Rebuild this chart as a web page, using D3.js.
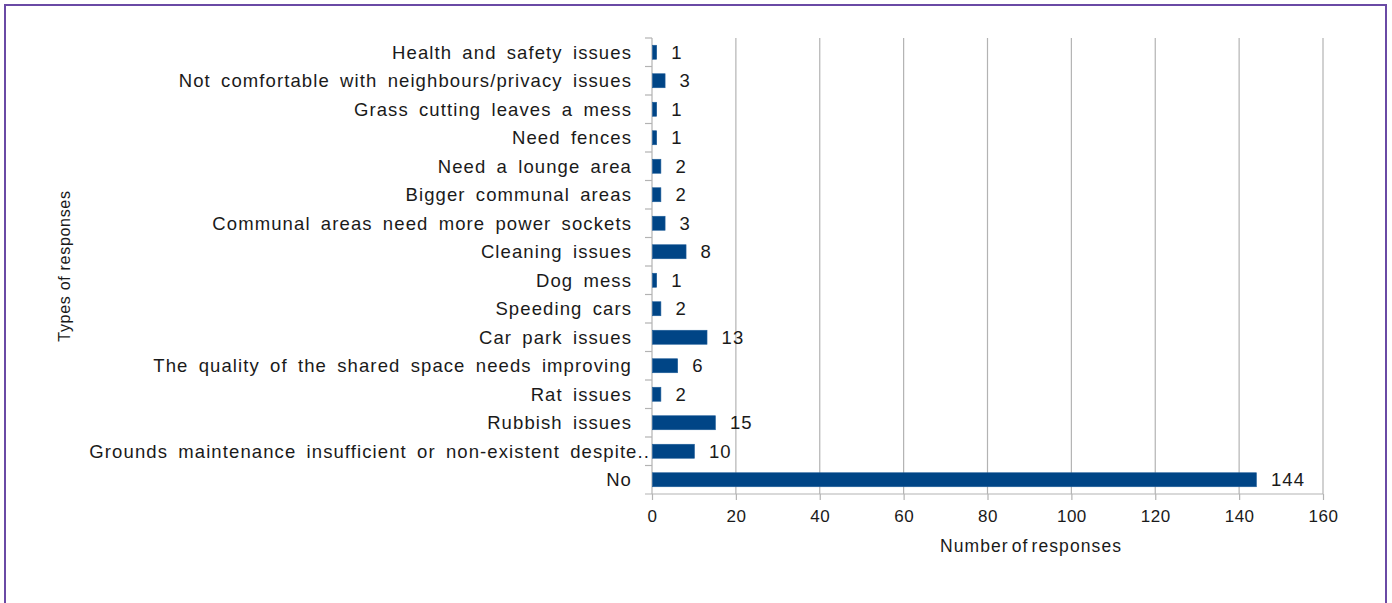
<!DOCTYPE html>
<html>
<head>
<meta charset="utf-8">
<script src="https://cdn.jsdelivr.net/npm/d3@7"></script>
<style>
  html, body { margin: 0; padding: 0; background: #fff; }
  svg { display: block; }
  text { font-family: "Liberation Sans", Arial, sans-serif; fill: #1a1a1a; }
</style>
</head>
<body>
<svg id="chart" width="1392" height="603"></svg>
<script>
// Survey categories, top to bottom
const categories = [
  "Health and safety issues",
  "Not comfortable  with neighbours/privacy  issues",
  "Grass cutting leaves a mess",
  "Need fences",
  "Need a lounge area",
  "Bigger communal areas",
  "Communal areas need more power sockets",
  "Cleaning issues",
  "Dog mess",
  "Speeding cars",
  "Car park issues",
  "The quality of the shared space needs improving",
  "Rat issues",
  "Rubbish issues",
  "Grounds maintenance insufficient or non-existent despite..",
  "No"
];
const responses = [1, 3, 1, 1, 2, 2, 3, 8, 1, 2, 13, 6, 2, 15, 10, 144];
const xTicks = [0, 20, 40, 60, 80, 100, 120, 140, 160];

const svg = d3.select("#chart");

// Outer frame
svg.append("rect")
  .attr("x", 5).attr("y", 5)
  .attr("width", 1381).attr("height", 620)
  .attr("fill", "none")
  .attr("stroke", "#6a4aa5")
  .attr("stroke-width", 2);

const plot = { left: 652, right: 1323, top: 38, bottom: 494 };

const x = d3.scaleLinear().domain([0, 160]).range([plot.left, plot.right]);
const y = d3.scaleBand().domain(categories).range([plot.top, plot.bottom]).paddingInner(0).paddingOuter(0);

const grid = "#b3b3b3";
const labelStyle = sel => sel
  .style("font-size", "18.5px")
  .style("letter-spacing", "1.1px")
  .style("word-spacing", "4px");

// Vertical gridlines
svg.append("g").selectAll("line")
  .data(xTicks.filter(d => d > 0))
  .join("line")
  .attr("x1", d => x(d)).attr("x2", d => x(d))
  .attr("y1", plot.top).attr("y2", plot.bottom)
  .attr("stroke", grid).attr("stroke-width", 1.2);

// X axis
const xAxis = svg.append("g")
  .attr("transform", `translate(0,${plot.bottom})`)
  .call(d3.axisBottom(x).tickValues(xTicks).tickSize(6).tickPadding(10).tickSizeOuter(0));
xAxis.select(".domain").remove();
xAxis.append("line")
  .attr("x1", plot.left - 7).attr("x2", plot.right)
  .attr("stroke", grid).attr("stroke-width", 1.2);
xAxis.selectAll(".tick line").attr("stroke", grid).attr("stroke-width", 1.2);
xAxis.selectAll(".tick text")
  .style("font-family", "'Liberation Sans', Arial, sans-serif")
  .style("font-size", "17px")
  .style("letter-spacing", "0.5px")
  .attr("fill", "#1a1a1a");

// Y axis line and category separators
svg.append("line")
  .attr("x1", plot.left).attr("x2", plot.left)
  .attr("y1", plot.top).attr("y2", plot.bottom)
  .attr("stroke", grid).attr("stroke-width", 1.2);
svg.append("g").selectAll("line")
  .data(categories.map(c => y(c)))
  .join("line")
  .attr("x1", plot.left - 7).attr("x2", plot.left)
  .attr("y1", d => d).attr("y2", d => d)
  .attr("stroke", grid).attr("stroke-width", 1.2);

// Category labels (truncated labels run up to the axis)
svg.append("g").selectAll("text")
  .data(categories)
  .join("text")
  .attr("x", d => d.endsWith("..") ? plot.left - 2 : plot.left - 20)
  .attr("y", d => y(d) + y.bandwidth() / 2)
  .attr("dy", "0.35em")
  .attr("text-anchor", "end")
  .call(labelStyle)
  .text(d => d);

// Bars
const barH = 14;
svg.append("g").selectAll("rect")
  .data(categories)
  .join("rect")
  .attr("x", x(0) + 0.5)
  .attr("y", d => y(d) + (y.bandwidth() - barH) / 2)
  .attr("width", (d, i) => x(responses[i]) - x(0))
  .attr("height", barH)
  .attr("fill", "#004586")
  .attr("stroke", "#1f5d99")
  .attr("stroke-width", 0.6);

// Value labels
svg.append("g").selectAll("text")
  .data(categories)
  .join("text")
  .attr("x", (d, i) => x(responses[i]) + 15)
  .attr("y", d => y(d) + y.bandwidth() / 2)
  .attr("dy", "0.35em")
  .call(labelStyle)
  .text((d, i) => responses[i]);

// Axis titles
svg.append("text")
  .attr("x", 1031)
  .attr("y", 552)
  .attr("text-anchor", "middle")
  .style("font-size", "17.5px")
  .style("letter-spacing", "1.1px")
  .style("word-spacing", "-3px")
  .text("Number of responses");

svg.append("text")
  .attr("transform", "translate(70,266) rotate(-90)")
  .attr("text-anchor", "middle")
  .style("font-size", "16px")
  .style("letter-spacing", "0.7px")
  .text("Types of responses");
</script>
</body>
</html>
